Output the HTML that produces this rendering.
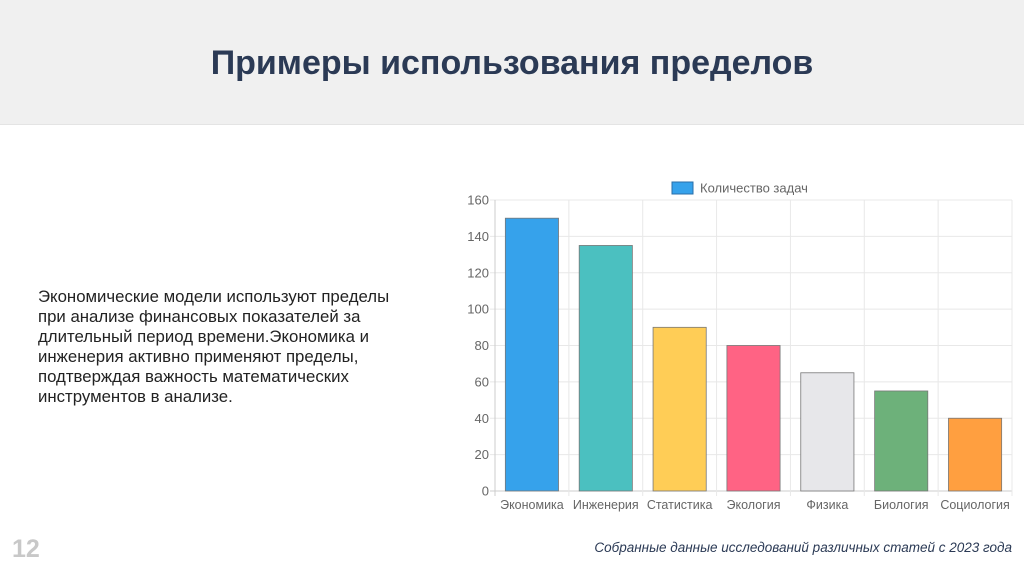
<!DOCTYPE html>
<html><head><meta charset="utf-8"><style>
body{margin:0;width:1024px;height:574px;background:#fff;font-family:"Liberation Sans",sans-serif;position:relative;overflow:hidden}
#hdr{position:absolute;left:0;top:0;width:1024px;height:124px;background:#f0f0f0;border-bottom:1px solid #e4e4e4}
#title{position:absolute;left:0;width:1024px;top:44px;text-align:center;font-size:34px;font-weight:bold;color:#2b3a55}
#txt{position:absolute;left:38px;top:287px;width:372px;font-size:16.8px;line-height:20px;color:#222}
#num{position:absolute;left:12px;top:535px;font-size:25px;font-weight:bold;color:#c8c8c8}
#foot{position:absolute;right:12px;top:540px;font-size:13.5px;font-style:italic;color:#2b3a55}
svg{position:absolute;left:0;top:0}
</style></head><body>
<div id="hdr"></div>
<div id="title">Примеры использования пределов</div>
<div id="txt">Экономические модели используют пределы при анализе финансовых показателей за длительный период времени.Экономика и инженерия активно применяют пределы, подтверждая важность математических инструментов в анализе.</div>
<div id="num">12</div>
<div id="foot">Собранные данные исследований различных статей с 2023 года</div>
<svg id="chart" width="1024" height="574"></svg>
<script>
const categories=["Экономика","Инженерия","Статистика","Экология","Физика","Биология","Социология"];
const values=[150,135,90,80,65,55,40];
const colors=["#36a2eb","#4bc0c0","#ffcd56","#ff6384","#e7e7ea","#6db17a","#ff9f40"];
const ticks=[0,20,40,60,80,100,120,140,160];
const svg=document.getElementById('chart');const NS="http://www.w3.org/2000/svg";
const L=495,R=1012,T=200,B=491,maxV=160;
const y=v=>B-(v/maxV)*(B-T);
const bw=(R-L)/categories.length;
const x=i=>L+i*bw;
function mk(t,a,txt){const e=document.createElementNS(NS,t);for(const k in a)e.setAttribute(k,a[k]);if(txt!==undefined)e.textContent=txt;svg.appendChild(e);return e;}
ticks.forEach(t=>{
 const g=mk('line',{x1:L-5,x2:R,y1:y(t),y2:y(t),stroke:t===0?'#ccc':'#e8e8e8'});
 
 
 const lb=mk('text',{x:L-6,y:y(t)+4.5,'text-anchor':'end','font-size':13,fill:'#666','font-family':'Liberation Sans'},t);
 
 
});
for(let i=0;i<=categories.length;i++){
 const g=mk('line',{x1:x(i),x2:x(i),y1:T,y2:B+5,stroke:i===0?'#ccc':'#e8e8e8'});
 
 
}
categories.forEach((c,i)=>{
 const bx=x(i)+bw*0.14,w=bw*0.72;
 const r=mk('rect',{x:bx,y:y(values[i]),width:w,height:B-y(values[i]),fill:colors[i],stroke:'#777','stroke-width':0.8});
 
 
 const t=mk('text',{x:x(i)+bw/2,y:B+18,'text-anchor':'middle','font-size':12.5,fill:'#666','font-family':'Liberation Sans'},c);
 
 
});
const lg=mk('rect',{x:672,y:182,width:21,height:12,fill:'#36a2eb',stroke:'#2a6fa8','stroke-width':1});


const lt=mk('text',{x:700,y:192.5,'font-size':13,fill:'#666','font-family':'Liberation Sans'},'Количество задач');


</script>
</body></html>
